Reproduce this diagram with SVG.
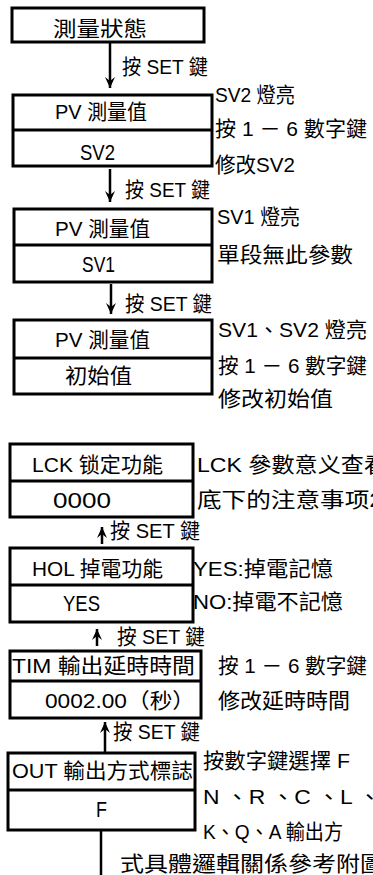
<svg xmlns="http://www.w3.org/2000/svg" width="373" height="875" viewBox="0 0 373 875">
<style>
text{font-family:"Liberation Sans Narrow","Liberation Sans","Noto Sans CJK TC",sans-serif;font-size:21px;fill:#000}
text.lat{font-size:22px}
.box{fill:#fff;stroke:#000;stroke-width:3}
.div{stroke:#000;stroke-width:3}
.con{stroke:#000;stroke-width:2.5;fill:none}
</style>
<defs>
<marker id="ah" markerUnits="userSpaceOnUse" markerWidth="14" markerHeight="14" viewBox="-12 -7 14 14" refX="0" refY="0" orient="auto">
<path d="M0,0 L-11,-5 L-7,0 L-11,5 z" fill="#000"/>
</marker>
</defs>
<rect width="373" height="875" fill="#fff"/>
<g id="connectors">
<line class="con" x1="110" y1="42" x2="110" y2="88" marker-end="url(#ah)"/>
<line class="con" x1="110" y1="169" x2="110" y2="202" marker-end="url(#ah)"/>
<line class="con" x1="111" y1="284" x2="111" y2="314" marker-end="url(#ah)"/>
<line class="con" x1="102" y1="544" x2="102" y2="527" marker-end="url(#ah)"/>
<line class="con" x1="97" y1="646" x2="97" y2="629" marker-end="url(#ah)"/>
<line class="con" x1="105" y1="753" x2="105" y2="722" marker-end="url(#ah)"/>
<line class="con" x1="101" y1="830" x2="101" y2="875"/>
<text x="122" y="74" textLength="86" lengthAdjust="spacingAndGlyphs">按 SET 鍵</text>
<text x="125" y="197" textLength="85" lengthAdjust="spacingAndGlyphs">按 SET 鍵</text>
<text x="125" y="311" textLength="87" lengthAdjust="spacingAndGlyphs">按 SET 鍵</text>
<text x="110" y="538" textLength="90" lengthAdjust="spacingAndGlyphs">按 SET 鍵</text>
<text x="117" y="644" textLength="88" lengthAdjust="spacingAndGlyphs">按 SET 鍵</text>
<text x="113" y="739" textLength="87" lengthAdjust="spacingAndGlyphs">按 SET 鍵</text>
</g>
<g id="n1">
<rect class="box" x="12" y="8" width="192" height="34"/>
<text x="53" y="36" textLength="94" lengthAdjust="spacingAndGlyphs">測量狀態</text>
</g>
<g id="n2">
<rect class="box" x="13" y="95" width="199" height="71"/>
<line class="div" x1="13" y1="130" x2="212" y2="130"/>
<text x="55" y="119" textLength="92" lengthAdjust="spacingAndGlyphs">PV 測量值</text>
<text class="lat" x="80" y="160" textLength="35" lengthAdjust="spacingAndGlyphs">SV2</text>
<text x="215" y="102" textLength="80" lengthAdjust="spacingAndGlyphs">SV2 燈亮</text>
<text x="215" y="136" textLength="152" lengthAdjust="spacingAndGlyphs">按 1 － 6 數字鍵</text>
<text x="215" y="172" textLength="80" lengthAdjust="spacingAndGlyphs">修改SV2</text>
</g>
<g id="n3">
<rect class="box" x="14" y="209" width="198" height="73"/>
<line class="div" x1="14" y1="245" x2="212" y2="245"/>
<text x="55" y="236" textLength="95" lengthAdjust="spacingAndGlyphs">PV 測量值</text>
<text class="lat" x="82" y="272" textLength="33" lengthAdjust="spacingAndGlyphs">SV1</text>
<text x="217" y="224" textLength="83" lengthAdjust="spacingAndGlyphs">SV1 燈亮</text>
<text x="217" y="262" textLength="136" lengthAdjust="spacingAndGlyphs">單段無此參數</text>
</g>
<g id="n4">
<rect class="box" x="14" y="320" width="198" height="74"/>
<line class="div" x1="14" y1="358" x2="212" y2="358"/>
<text x="55" y="347" textLength="95" lengthAdjust="spacingAndGlyphs">PV 測量值</text>
<text x="65" y="383" textLength="67" lengthAdjust="spacingAndGlyphs">初始值</text>
<text x="218" y="337" textLength="149" lengthAdjust="spacingAndGlyphs">SV1、SV2 燈亮</text>
<text x="218" y="373" textLength="149" lengthAdjust="spacingAndGlyphs">按 1 － 6 數字鍵</text>
<text x="218" y="406" textLength="115" lengthAdjust="spacingAndGlyphs">修改初始值</text>
</g>
<g id="n5">
<rect class="box" x="10" y="444" width="183" height="73"/>
<line class="div" x1="10" y1="481" x2="193" y2="481"/>
<text x="32" y="472" textLength="131" lengthAdjust="spacingAndGlyphs">LCK 锁定功能</text>
<text class="lat" x="53" y="508" textLength="58" lengthAdjust="spacingAndGlyphs">0000</text>
<text x="197" y="472" textLength="190" lengthAdjust="spacingAndGlyphs">LCK 參數意义查看</text>
<text x="197" y="507" textLength="186" lengthAdjust="spacingAndGlyphs">底下的注意事项2</text>
</g>
<g id="n6">
<rect class="box" x="10" y="548" width="183" height="74"/>
<line class="div" x1="10" y1="585" x2="193" y2="585"/>
<text x="32" y="576" textLength="131" lengthAdjust="spacingAndGlyphs">HOL 掉電功能</text>
<text class="lat" x="63" y="611" textLength="37" lengthAdjust="spacingAndGlyphs">YES</text>
<text x="193" y="576" textLength="140" lengthAdjust="spacingAndGlyphs">YES:掉電記憶</text>
<text x="193" y="609" textLength="150" lengthAdjust="spacingAndGlyphs">NO:掉電不記憶</text>
</g>
<g id="n7">
<rect class="box" x="10" y="651" width="191" height="67"/>
<line class="div" x1="10" y1="681" x2="201" y2="681"/>
<text x="12" y="673" textLength="183" lengthAdjust="spacingAndGlyphs">TIM 輸出延時時間</text>
<text x="45" y="708" textLength="150" lengthAdjust="spacingAndGlyphs">0002.00（秒）</text>
<text x="218" y="673" textLength="149" lengthAdjust="spacingAndGlyphs">按 1 － 6 數字鍵</text>
<text x="218" y="708" textLength="132" lengthAdjust="spacingAndGlyphs">修改延時時間</text>
</g>
<g id="n8">
<rect class="box" x="8" y="753" width="187" height="77"/>
<line class="div" x1="8" y1="790" x2="195" y2="790"/>
<text x="12" y="778" textLength="181" lengthAdjust="spacingAndGlyphs">OUT 輸出方式標誌</text>
<text class="lat" x="96" y="817" textLength="11" lengthAdjust="spacingAndGlyphs">F</text>
<text x="203" y="768" textLength="147" lengthAdjust="spacingAndGlyphs">按數字鍵選擇 F</text>
<text x="203" y="804" textLength="178" lengthAdjust="spacingAndGlyphs">N 、R 、C 、L 、</text>
<text x="203" y="839" textLength="140" lengthAdjust="spacingAndGlyphs">K、Q、A 輸出方</text>
<text x="120" y="871" textLength="264" lengthAdjust="spacingAndGlyphs">式具體邏輯關係參考附圖</text>
</g>
</svg>
